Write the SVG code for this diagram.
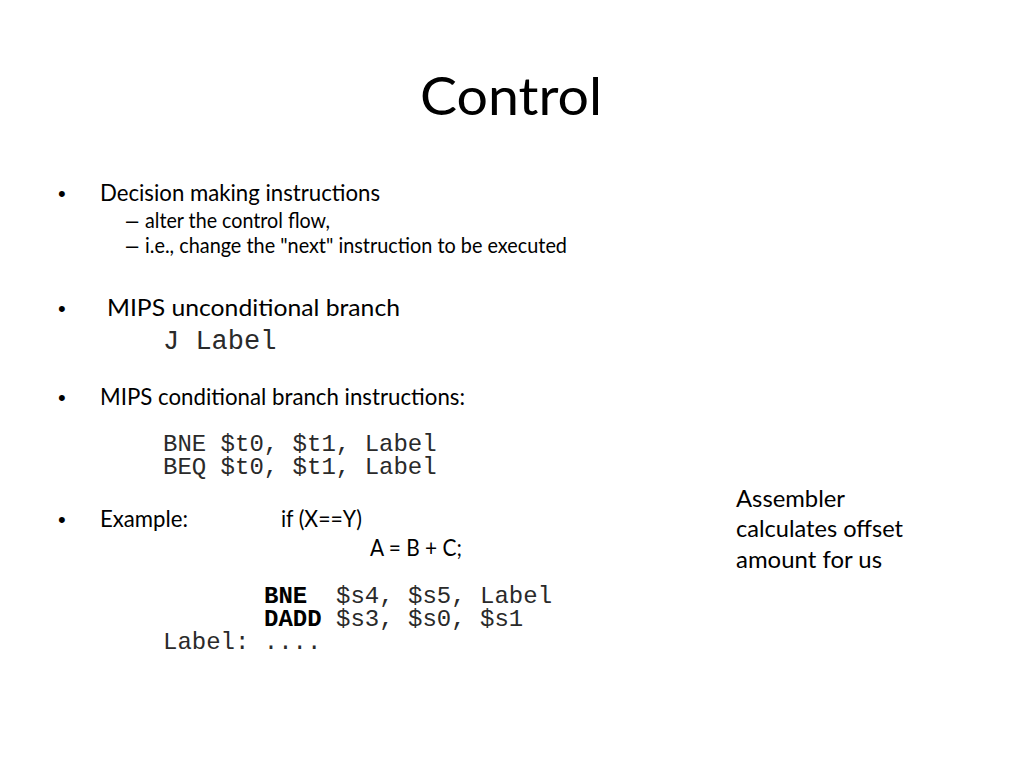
<svg xmlns="http://www.w3.org/2000/svg" width="1024" height="768" viewBox="0 0 1024 768">
<style>
.t{font-family:Lato,"Open Sans","Liberation Sans",sans-serif;fill:#000}
.b{font-size:24px}
.s{font-size:21px}
.m{font-family:"Liberation Mono","Courier New",monospace;font-size:24px;fill:#2a2a2a}
.mb{font-weight:bold;fill:#000}
.bul{font-family:"Liberation Sans",Arial,sans-serif;fill:#000}
</style>
<rect width="1024" height="768" fill="#fff"/>
<g id="title">
<text class="t" x="420" y="115" font-size="53" textLength="182" lengthAdjust="spacingAndGlyphs">Control</text>
</g>
<g id="bullet1">
<text class="bul" x="58" y="201" font-size="22">•</text>
<text class="t b" x="100" y="201" textLength="280" lengthAdjust="spacingAndGlyphs">Decision making instructions</text>
<text class="bul" x="126" y="228" font-size="22">–</text>
<text class="t s" x="145" y="228" textLength="185" lengthAdjust="spacingAndGlyphs">alter the control flow,</text>
<text class="bul" x="126" y="253" font-size="22">–</text>
<text class="t s" x="145" y="253" textLength="422" lengthAdjust="spacingAndGlyphs">i.e., change the "next" instruction to be executed</text>
</g>
<g id="bullet2">
<text class="bul" x="58" y="316" font-size="22">•</text>
<text class="t b" x="107" y="316" textLength="293" lengthAdjust="spacingAndGlyphs">MIPS unconditional branch</text>
<text class="m" x="163" y="349" style="font-size:27px">J Label</text>
</g>
<g id="bullet3">
<text class="bul" x="58" y="405" font-size="22">•</text>
<text class="t b" x="100" y="405" textLength="365" lengthAdjust="spacingAndGlyphs">MIPS conditional branch instructions:</text>
<text class="m" x="163" y="451">BNE $t0, $t1, Label</text>
<text class="m" x="163" y="474">BEQ $t0, $t1, Label</text>
</g>
<g id="bullet4">
<text class="bul" x="58" y="527" font-size="22">•</text>
<text class="t b" x="100" y="527" textLength="88" lengthAdjust="spacingAndGlyphs">Example:</text>
<text class="t b" x="281" y="527" textLength="81" lengthAdjust="spacingAndGlyphs">if (X==Y)</text>
<text class="t b" x="370" y="556" textLength="92" lengthAdjust="spacingAndGlyphs">A = B + C;</text>
<text class="m" x="264" y="603" xml:space="preserve"><tspan class="mb">BNE</tspan>  $s4, $s5, Label</text>
<text class="m" x="264" y="626" xml:space="preserve"><tspan class="mb">DADD</tspan> $s3, $s0, $s1</text>
<text class="m" x="163" y="649">Label: ....</text>
</g>
<g id="note">
<text class="t b" x="736" y="507" textLength="109" lengthAdjust="spacingAndGlyphs">Assembler</text>
<text class="t b" x="736" y="537" textLength="167" lengthAdjust="spacingAndGlyphs">calculates offset</text>
<text class="t b" x="736" y="568" textLength="146" lengthAdjust="spacingAndGlyphs">amount for us</text>
</g>
</svg>
